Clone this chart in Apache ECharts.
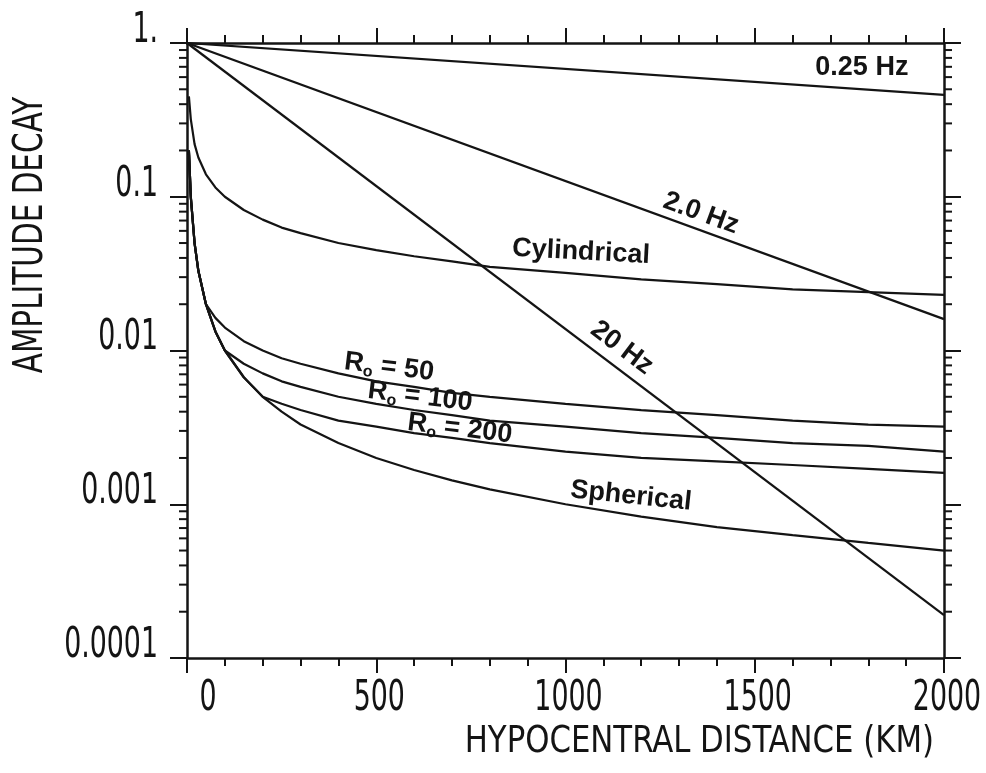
<!DOCTYPE html>
<html>
<head>
<meta charset="utf-8">
<script src="https://cdn.jsdelivr.net/npm/echarts@6/dist/echarts.min.js"></script>
<style>
html,body{margin:0;padding:0;background:#fff;}
#chart{width:986px;height:773px;}
</style>
</head>
<body>
<div id="chart"></div>
<script>
// ---- data ----
const distKm = [5, 10, 20, 30, 50, 75, 100, 150, 200, 250, 300, 400, 500, 600, 700, 800, 1000, 1200, 1400, 1600, 1800, 2000];
const spherical   = [0.2, 0.1, 0.05, 0.033, 0.02, 0.0133, 0.01, 0.0067, 0.005, 0.004, 0.0033, 0.0025, 0.002, 0.00167, 0.00143, 0.00125, 0.001, 0.00083, 0.00071, 0.00063, 0.00056, 0.0005];
const cylindrical = [0.45, 0.32, 0.22, 0.18, 0.14, 0.115, 0.1, 0.082, 0.071, 0.063, 0.058, 0.05, 0.045, 0.041, 0.038, 0.035, 0.032, 0.029, 0.027, 0.025, 0.024, 0.023];
const ro50  = [0.2, 0.1, 0.05, 0.033, 0.02, 0.0163, 0.0141, 0.0115, 0.01, 0.0089, 0.0082, 0.0071, 0.0063, 0.0058, 0.0053, 0.005, 0.0045, 0.0041, 0.0038, 0.0035, 0.0033, 0.0032];
const ro100 = [0.2, 0.1, 0.05, 0.033, 0.02, 0.0133, 0.01, 0.0082, 0.0071, 0.0063, 0.0058, 0.005, 0.0045, 0.0041, 0.0038, 0.0035, 0.0032, 0.0029, 0.0027, 0.0025, 0.0024, 0.0022];
const ro200 = [0.2, 0.1, 0.05, 0.033, 0.02, 0.0133, 0.01, 0.0067, 0.005, 0.0045, 0.0041, 0.0035, 0.0032, 0.0029, 0.0027, 0.0025, 0.0022, 0.002, 0.0019, 0.0018, 0.0017, 0.0016];
const lineDist = [0, 2000];
const hz025 = [1, 0.46];
const hz2   = [1, 0.016];
const hz20  = [1, 0.00019];
const xTickValues = [0, 500, 1000, 1500, 2000];
const xTickLabels = ['0', '500', '1000', '1500', '2000'];
const yTickValues = [0.0001, 0.001, 0.01, 0.1, 1];
const yTickLabels = ['0.0001', '0.001', '0.01', '0.1', '1.'];
const yMinorTickValues = [
  0.0002,0.0003,0.0004,0.0005,0.0006,0.0007,0.0008,0.0009,
  0.002,0.003,0.004,0.005,0.006,0.007,0.008,0.009,
  0.02,0.03,0.04,0.05,0.06,0.07,0.08,0.09,
  0.2,0.3,0.4,0.5,0.6,0.7,0.8,0.9
];
const labelTexts = ['0.25 Hz', '2.0 Hz', 'Cylindrical', '20 Hz', 'R_o = 50', 'R_o = 100', 'R_o = 200', 'Spherical'];
const labelAnchorX = [1783, 1358, 1041, 1149, 534, 616, 721, 1173];
const labelAnchorY = [0.69, 0.078, 0.0437, 0.0104, 0.0078, 0.0050, 0.0031, 0.00113];

// ---- building ----
const INK = '#141414';
const NARROW = "'Liberation Sans Narrow','DejaVu Sans Condensed','Arial Narrow',sans-serif";
const BOLD = "'Liberation Sans',Arial,Helvetica,sans-serif";
const labelRotate = [0, -20, -3, -37, -7, -7, -7, -6];
const TICK_FONT = '42px ' + NARROW;
const TICK_SCALE = 0.71;

function pairs(xs, ys) { return xs.map((x, i) => [x, ys[i]]); }
function lineSeries(xs, ys) {
  return {
    type: 'line', data: pairs(xs, ys), symbol: 'none', smooth: false,
    lineStyle: { color: INK, width: 2.2 }, silent: true, animation: false, z: 3
  };
}

function richLabel(t) {
  if (t.indexOf('R_o') === 0) {
    return '{b|R}{s|o}{b|' + t.slice(3) + '}';
  }
  return '{b|' + t + '}';
}

const annotationData = labelTexts.map((t, i) => ({
  value: [labelAnchorX[i], labelAnchorY[i]],
  label: { rotate: labelRotate[i], formatter: richLabel(t) }
}));

const xAxisCommon = {
  type: 'value', min: 0, max: 2000, interval: 500,
  axisLine: { show: true, onZero: false, lineStyle: { color: INK, width: 2.5 } },
  axisTick: { show: true, inside: false, length: 15, lineStyle: { color: INK, width: 2 } },
  minorTick: { show: true, splitNumber: 5, length: 8, lineStyle: { color: INK, width: 2 } },
  axisLabel: { show: false },
  splitLine: { show: false }, minorSplitLine: { show: false }
};
const yAxisCommon = {
  type: 'log', logBase: 10, min: 0.0001, max: 1,
  axisLine: { show: true, onZero: false, lineStyle: { color: INK, width: 2.5 } },
  axisTick: { show: true, inside: false, length: 17, lineStyle: { color: INK, width: 2 } },
  minorTick: { show: false },
  axisLabel: { show: false },
  splitLine: { show: false }
};

const option = {
  animation: false,
  backgroundColor: '#fff',
  grid: { left: 187, right: 42, top: 43, bottom: 115, containLabel: false },
  xAxis: [
    Object.assign({}, xAxisCommon, { position: 'bottom' }),
    Object.assign({}, xAxisCommon, { position: 'top' })
  ],
  yAxis: [
    Object.assign({}, yAxisCommon, { position: 'left' }),
    Object.assign({}, yAxisCommon, { position: 'right' })
  ],
  graphic: [
    {
      type: 'text', x: 32, y: 235, rotation: Math.PI / 2, scaleX: 0.82,
      style: { text: 'AMPLITUDE DECAY', font: '40px ' + NARROW, fill: INK, align: 'center', verticalAlign: 'middle' }
    },
    {
      type: 'text', x: 934, y: 742, scaleX: 0.9,
      style: { text: 'HYPOCENTRAL DISTANCE (KM)', font: '38px ' + NARROW, fill: INK, align: 'right', verticalAlign: 'middle' }
    }
  ],
  series: [
    lineSeries(lineDist, hz025),
    lineSeries(lineDist, hz2),
    lineSeries(lineDist, hz20),
    lineSeries(distKm, cylindrical),
    lineSeries(distKm, ro50),
    lineSeries(distKm, ro100),
    lineSeries(distKm, ro200),
    lineSeries(distKm, spherical),
    {
      // minor ticks of the log axes (left and right)
      type: 'custom', silent: true, animation: false, clip: false,
      data: yMinorTickValues.map(v => [0, v]),
      renderItem: function (params, api) {
        const v = api.value(1);
        const pl = api.coord([0, v]);
        const pr = api.coord([2000, v]);
        const st = { stroke: INK, lineWidth: 2 };
        return {
          type: 'group', children: [
            { type: 'line', shape: { x1: pl[0] - 8, y1: pl[1], x2: pl[0], y2: pl[1] }, style: st },
            { type: 'line', shape: { x1: pr[0], y1: pr[1], x2: pr[0] + 8, y2: pr[1] }, style: st }
          ]
        };
      }
    },
    {
      // y tick labels
      type: 'custom', silent: true, animation: false, clip: false,
      data: yTickValues.map((v, i) => [0, v, i]),
      renderItem: function (params, api) {
        const v = api.value(1);
        const i = api.value(2);
        const p = api.coord([0, v]);
        return {
          type: 'text', x: p[0] - 29, y: p[1] + 9, scaleX: TICK_SCALE,
          style: { text: yTickLabels[i], font: TICK_FONT, fill: INK, align: 'right', verticalAlign: 'bottom' }
        };
      }
    },
    {
      // x tick labels
      type: 'custom', silent: true, animation: false, clip: false,
      data: xTickValues.map((v, i) => [v, 0.0001, i]),
      renderItem: function (params, api) {
        const v = api.value(0);
        const i = api.value(2);
        const p = api.coord([v, 0.0001]);
        return {
          type: 'text', x: p[0] + (i === 0 ? 21 : 3), y: p[1] + 20, scaleX: TICK_SCALE,
          style: { text: xTickLabels[i], font: TICK_FONT, fill: INK, align: 'center', verticalAlign: 'top' }
        };
      }
    },
    {
      type: 'scatter', symbolSize: 0, silent: true, animation: false, z: 5,
      itemStyle: { opacity: 1 },
      data: annotationData,
      label: {
        show: true, position: 'inside', color: INK, opacity: 1,
        rich: {
          b: { fontFamily: BOLD, fontWeight: 'bold', fontSize: 27, color: INK },
          s: { fontFamily: BOLD, fontWeight: 'bold', fontSize: 16, color: INK, padding: [15, 0, 0, 0] }
        }
      }
    }
  ]
};

const chart = echarts.init(document.getElementById('chart'), null, { renderer: 'canvas' });
chart.setOption(option);
</script>
</body>
</html>
